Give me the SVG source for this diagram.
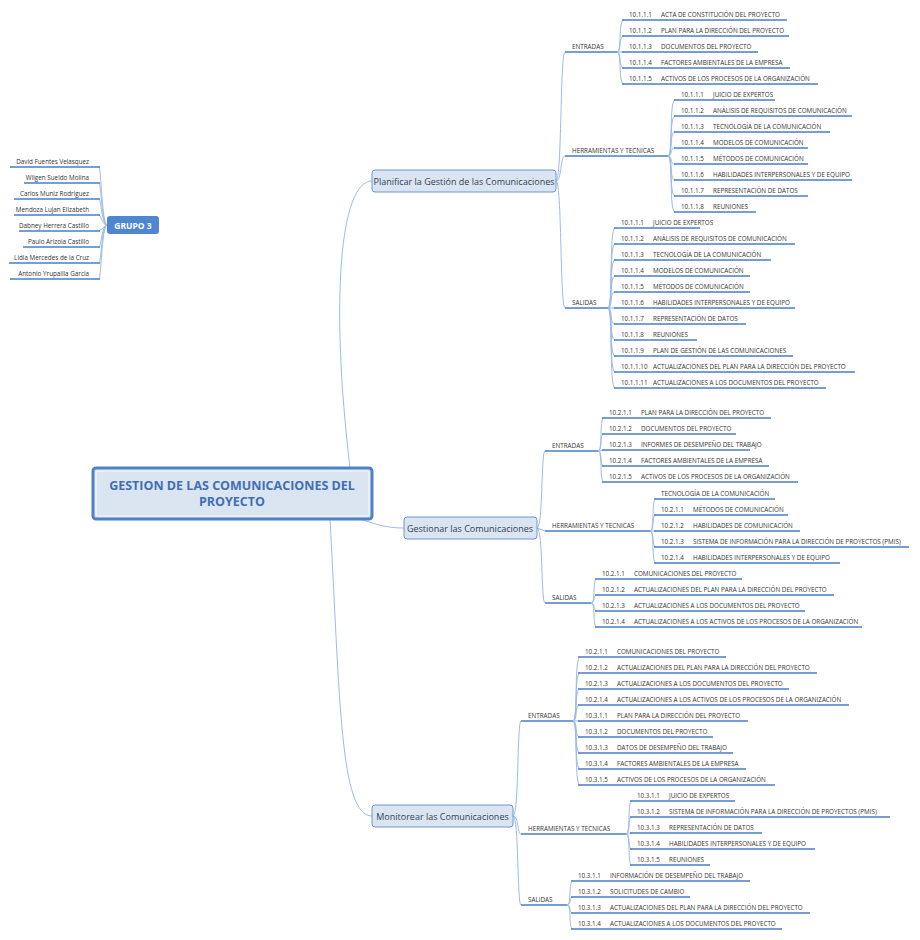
<svg xmlns="http://www.w3.org/2000/svg" width="920" height="940" viewBox="0 0 920 940">
<style>
text{font-family:"Open Sans","Liberation Sans",sans-serif;fill:#333}
.t{font-size:6.3px}
.n{font-size:6.3px}
.u{stroke:#4a7fc9;stroke-width:1.3;fill:none}
.c{stroke:#9dbbe6;stroke-width:1;fill:none}
.box{fill:#dbe5f1;stroke:#6f95cc;stroke-width:1}
.bt{font-size:9px;fill:#2f3f55}
</style>
<rect width="920" height="940" fill="#fff"/>
<g id="connectors">
<path class="c" d="M350 468 C330 300 340 181 372 181"/>
<path class="c" d="M360 519 C380 526 390 528 404 528"/>
<path class="c" d="M330 519 C340 700 340 816 372 816"/>
<path class="c" d="M556 181 C562 181 560 52 565 52 M556 181 C562 181 560 156 565 156 M556 181 C562 181 560 308 565 308"/>
<path class="c" d="M617 52 C622 52 618 20 624 20 M617 52 C622 52 618 36 624 36 M617 52 L624 52 M617 52 C622 52 618 68 624 68 M617 52 C622 52 618 84 624 84"/>
<path class="c" d="M668 156 C673 156 669 100 675 100 M668 156 C673 156 669 116 675 116 M668 156 C673 156 669 132 675 132 M668 156 C673 156 669 148 675 148 M668 156 C673 156 669 164 675 164 M668 156 C673 156 669 180 675 180 M668 156 C673 156 669 196 675 196 M668 156 C673 156 669 212 675 212"/>
<path class="c" d="M608 308 C613 308 609 228 615 228 M608 308 C613 308 609 244 615 244 M608 308 C613 308 609 260 615 260 M608 308 C613 308 609 276 615 276 M608 308 C613 308 609 292 615 292 M608 308 L615 308 M608 308 C613 308 609 324 615 324 M608 308 C613 308 609 340 615 340 M608 308 C613 308 609 356 615 356 M608 308 C613 308 609 372 615 372 M608 308 C613 308 609 388 615 388"/>
<path class="c" d="M537 528 C543 528 541 451 545 451 M537 528 L545 531 M537 528 C543 528 541 603 545 603"/>
<path class="c" d="M598 451 C603 451 599 418 604 418 M598 451 C603 451 599 434 604 434 M598 451 L604 450 M598 451 C603 451 599 466 604 466 M598 451 C603 451 599 482 604 482"/>
<path class="c" d="M650 531 C655 531 651 499 656 499 M650 531 C655 531 651 515 656 515 M650 531 L656 531 M650 531 C655 531 651 547 656 547 M650 531 C655 531 651 563 656 563"/>
<path class="c" d="M591 603 C596 603 592 579 597 579 M591 603 C596 603 592 595 597 595 M591 603 C596 603 592 611 597 611 M591 603 C596 603 592 627 597 627"/>
<path class="c" d="M513 816 C519 816 517 721 521 721 M513 816 C519 816 517 834 521 834 M513 816 C519 816 517 905 521 905"/>
<path class="c" d="M573 721 C578 721 574 657 580 657 M573 721 C578 721 574 673 580 673 M573 721 C578 721 574 689 580 689 M573 721 C578 721 574 705 580 705 M573 721 L580 721 M573 721 C578 721 574 737 580 737 M573 721 C578 721 574 753 580 753 M573 721 C578 721 574 769 580 769 M573 721 C578 721 574 785 580 785"/>
<path class="c" d="M626 834 C631 834 627 801 632 801 M626 834 C631 834 627 817 632 817 M626 834 C631 834 627 833 632 833 M626 834 C631 834 627 849 632 849 M626 834 C631 834 627 865 632 865"/>
<path class="c" d="M567 905 C572 905 568 881 573 881 M567 905 C572 905 568 897 573 897 M567 905 C572 905 568 913 573 913 M567 905 C572 905 568 929 573 929"/>
<path class="c" d="M107 225 C102 225 101 167 99 167 M107 225 C102 225 101 183 99 183 M107 225 C102 225 101 199 99 199 M107 225 C102 225 101 215 99 215 M107 225 L99 231 M107 225 C102 225 101 247 99 247 M107 225 C102 225 101 263 99 263 M107 225 C102 225 101 279 99 279"/>
</g>
<g id="central">
<rect x="93" y="468" width="279" height="51" rx="3" fill="#dbe5f1" stroke="#4f81c7" stroke-width="3"/>
<rect x="96" y="471" width="273" height="45" rx="2" fill="none" stroke="#fff" stroke-width="0.8"/>
<text x="232" y="490" text-anchor="middle" style="font-size:12.5px;font-weight:bold;fill:#3f6fb5">GESTION DE LAS COMUNICACIONES DEL</text>
<text x="232" y="506" text-anchor="middle" style="font-size:12.5px;font-weight:bold;fill:#3f6fb5">PROYECTO</text>
</g>
<g id="grupo">
<rect x="107" y="216" width="52" height="18" rx="3" fill="#4f86d2"/>
<text x="133" y="228.5" text-anchor="middle" style="font-size:8.5px;font-weight:bold;fill:#fff">GRUPO 3</text>
<g class="t" text-anchor="end">
<text x="89" y="164">David Fuentes Velasquez</text><text x="89" y="180">Wilgen Sueldo Molina</text><text x="89" y="196">Carlos Muniz Rodriguez</text><text x="89" y="212">Mendoza Lujan Elizabeth</text><text x="89" y="228">Dabney Herrera Castillo</text><text x="89" y="244">Paulo Arizola Castillo</text><text x="89" y="260">Lidia Mercedes de la Cruz</text><text x="89" y="276">Antonio Yrupailla Garcia</text>
</g>
<path class="u" d="M10 167H100M24 183H100M14 199H100M14 215H100M19 231H100M23 247H100M9 263H100M10 279H100"/>
</g>
<g id="planificar">
<rect class="box" x="372" y="170" width="184" height="22" rx="3"/>
<text class="bt" x="464" y="184.5" text-anchor="middle">Planificar la Gestión de las Comunicaciones</text>
<text class="t" x="572" y="49">ENTRADAS</text><text class="t" x="572" y="153">HERRAMIENTAS Y TECNICAS</text><text class="t" x="572" y="305">SALIDAS</text>
<path class="u" d="M565 52H617M565 156H668M565 308H608"/>
<g class="t">
<text x="629" y="17">10.1.1.1</text><text x="661" y="17">ACTA DE CONSTITUCIÓN DEL PROYECTO</text>
<text x="629" y="33">10.1.1.2</text><text x="661" y="33">PLAN PARA LA DIRECCIÓN DEL PROYECTO</text>
<text x="629" y="49">10.1.1.3</text><text x="661" y="49">DOCUMENTOS DEL PROYECTO</text>
<text x="629" y="65">10.1.1.4</text><text x="661" y="65">FACTORES AMBIENTALES DE LA EMPRESA</text>
<text x="629" y="81">10.1.1.5</text><text x="661" y="81">ACTIVOS DE LOS PROCESOS DE LA ORGANIZACIÓN</text>
</g>
<path class="u" d="M622 20H787M622 36H789M622 52H758M622 68H790M622 84H818"/>
<g class="t">
<text x="681" y="97">10.1.1.1</text><text x="713" y="97">JUICIO DE EXPERTOS</text>
<text x="681" y="113">10.1.1.2</text><text x="713" y="113">ANÁLISIS DE REQUISITOS DE COMUNICACIÓN</text>
<text x="681" y="129">10.1.1.3</text><text x="713" y="129">TECNOLOGÍA DE LA COMUNICACIÓN</text>
<text x="681" y="145">10.1.1.4</text><text x="713" y="145">MODELOS DE COMUNICACIÓN</text>
<text x="681" y="161">10.1.1.5</text><text x="713" y="161">MÉTODOS DE COMUNICACIÓN</text>
<text x="681" y="177">10.1.1.6</text><text x="713" y="177">HABILIDADES INTERPERSONALES Y DE EQUIPO</text>
<text x="681" y="193">10.1.1.7</text><text x="713" y="193">REPRESENTACIÓN DE DATOS</text>
<text x="681" y="209">10.1.1.8</text><text x="713" y="209">REUNIONES</text>
</g>
<path class="u" d="M674 100H775M674 116H852M674 132H830M674 148H808M674 164H808M674 180H852M674 196H808M674 212H756"/>
<g class="t">
<text x="621" y="225">10.1.1.1</text><text x="653" y="225">JUICIO DE EXPERTOS</text>
<text x="621" y="241">10.1.1.2</text><text x="653" y="241">ANÁLISIS DE REQUISITOS DE COMUNICACIÓN</text>
<text x="621" y="257">10.1.1.3</text><text x="653" y="257">TECNOLOGÍA DE LA COMUNICACIÓN</text>
<text x="621" y="273">10.1.1.4</text><text x="653" y="273">MODELOS DE COMUNICACIÓN</text>
<text x="621" y="289">10.1.1.5</text><text x="653" y="289">MÉTODOS DE COMUNICACIÓN</text>
<text x="621" y="305">10.1.1.6</text><text x="653" y="305">HABILIDADES INTERPERSONALES Y DE EQUIPO</text>
<text x="621" y="321">10.1.1.7</text><text x="653" y="321">REPRESENTACIÓN DE DATOS</text>
<text x="621" y="337">10.1.1.8</text><text x="653" y="337">REUNIONES</text>
<text x="621" y="353">10.1.1.9</text><text x="653" y="353">PLAN DE GESTIÓN DE LAS COMUNICACIONES</text>
<text x="621" y="369">10.1.1.10</text><text x="653" y="369">ACTUALIZACIONES DEL PLAN PARA LA DIRECCIÓN DEL PROYECTO</text>
<text x="621" y="385">10.1.1.11</text><text x="653" y="385">ACTUALIZACIONES A LOS DOCUMENTOS DEL PROYECTO</text>
</g>
<path class="u" d="M614 228H700M614 244H795M614 260H771M614 276H750M614 292H750M614 308H795M614 324H746M614 340H697M614 356H793M614 372H855M614 388H826"/>
</g>
<g id="gestionar">
<rect class="box" x="404" y="517" width="133" height="22" rx="3"/>
<text class="bt" x="470" y="531.5" text-anchor="middle">Gestionar las Comunicaciones</text>
<text class="t" x="552" y="448">ENTRADAS</text><text class="t" x="552" y="528">HERRAMIENTAS Y TECNICAS</text><text class="t" x="552" y="600">SALIDAS</text>
<path class="u" d="M545 451H598M545 531H650M545 603H591"/>
<g class="t">
<text x="609" y="415">10.2.1.1</text><text x="641" y="415">PLAN PARA LA DIRECCIÓN DEL PROYECTO</text>
<text x="609" y="431">10.2.1.2</text><text x="641" y="431">DOCUMENTOS DEL PROYECTO</text>
<text x="609" y="447">10.2.1.3</text><text x="641" y="447">INFORMES DE DESEMPEÑO DEL TRABAJO</text>
<text x="609" y="463">10.2.1.4</text><text x="641" y="463">FACTORES AMBIENTALES DE LA EMPRESA</text>
<text x="609" y="479">10.2.1.5</text><text x="641" y="479">ACTIVOS DE LOS PROCESOS DE LA ORGANIZACIÓN</text>
</g>
<path class="u" d="M602 418H771M602 434H736M602 450H750M602 466H769M602 482H798"/>
<g class="t">
<text x="661" y="496">TECNOLOGÍA DE LA COMUNICACIÓN</text>
<text x="661" y="512">10.2.1.1</text><text x="693" y="512">MÉTODOS DE COMUNICACIÓN</text>
<text x="661" y="528">10.2.1.2</text><text x="693" y="528">HABILIDADES DE COMUNICACIÓN</text>
<text x="661" y="544">10.2.1.3</text><text x="693" y="544">SISTEMA DE INFORMACIÓN PARA LA DIRECCIÓN DE PROYECTOS (PMIS)</text>
<text x="661" y="560">10.2.1.4</text><text x="693" y="560">HABILIDADES INTERPERSONALES Y DE EQUIPO</text>
</g>
<path class="u" d="M654 499H775M654 515H788M654 531H800M654 547H909M654 563H840"/>
<g class="t">
<text x="602" y="576">10.2.1.1</text><text x="634" y="576">COMUNICACIONES DEL PROYECTO</text>
<text x="602" y="592">10.2.1.2</text><text x="634" y="592">ACTUALIZACIONES DEL PLAN PARA LA DIRECCIÓN DEL PROYECTO</text>
<text x="602" y="608">10.2.1.3</text><text x="634" y="608">ACTUALIZACIONES A LOS DOCUMENTOS DEL PROYECTO</text>
<text x="602" y="624">10.2.1.4</text><text x="634" y="624">ACTUALIZACIONES A LOS ACTIVOS DE LOS PROCESOS DE LA ORGANIZACIÓN</text>
</g>
<path class="u" d="M595 579H742M595 595H834M595 611H805M595 627H862"/>
</g>
<g id="monitorear">
<rect class="box" x="372" y="805" width="141" height="22" rx="3"/>
<text class="bt" x="442.5" y="819.5" text-anchor="middle">Monitorear las Comunicaciones</text>
<text class="t" x="528" y="718">ENTRADAS</text><text class="t" x="528" y="831">HERRAMIENTAS Y TECNICAS</text><text class="t" x="528" y="902">SALIDAS</text>
<path class="u" d="M521 721H573M521 834H626M521 905H567"/>
<g class="t">
<text x="585" y="654">10.2.1.1</text><text x="617" y="654">COMUNICACIONES DEL PROYECTO</text>
<text x="585" y="670">10.2.1.2</text><text x="617" y="670">ACTUALIZACIONES DEL PLAN PARA LA DIRECCIÓN DEL PROYECTO</text>
<text x="585" y="686">10.2.1.3</text><text x="617" y="686">ACTUALIZACIONES A LOS DOCUMENTOS DEL PROYECTO</text>
<text x="585" y="702">10.2.1.4</text><text x="617" y="702">ACTUALIZACIONES A LOS ACTIVOS DE LOS PROCESOS DE LA ORGANIZACIÓN</text>
<text x="585" y="718">10.3.1.1</text><text x="617" y="718">PLAN PARA LA DIRECCIÓN DEL PROYECTO</text>
<text x="585" y="734">10.3.1.2</text><text x="617" y="734">DOCUMENTOS DEL PROYECTO</text>
<text x="585" y="750">10.3.1.3</text><text x="617" y="750">DATOS DE DESEMPEÑO DEL TRABAJO</text>
<text x="585" y="766">10.3.1.4</text><text x="617" y="766">FACTORES AMBIENTALES DE LA EMPRESA</text>
<text x="585" y="782">10.3.1.5</text><text x="617" y="782">ACTIVOS DE LOS PROCESOS DE LA ORGANIZACIÓN</text>
</g>
<path class="u" d="M578 657H726M578 673H817M578 689H789M578 705H849M578 721H748M578 737H713M578 753H733M578 769H746M578 785H775"/>
<g class="t">
<text x="637" y="798">10.3.1.1</text><text x="669" y="798">JUICIO DE EXPERTOS</text>
<text x="637" y="814">10.3.1.2</text><text x="669" y="814">SISTEMA DE INFORMACIÓN PARA LA DIRECCIÓN DE PROYECTOS (PMIS)</text>
<text x="637" y="830">10.3.1.3</text><text x="669" y="830">REPRESENTACIÓN DE DATOS</text>
<text x="637" y="846">10.3.1.4</text><text x="669" y="846">HABILIDADES INTERPERSONALES Y DE EQUIPO</text>
<text x="637" y="862">10.3.1.5</text><text x="669" y="862">REUNIONES</text>
</g>
<path class="u" d="M630 801H735M630 817H890M630 833H762M630 849H815M630 865H710"/>
<g class="t">
<text x="578" y="878">10.3.1.1</text><text x="610" y="878">INFORMACIÓN DE DESEMPEÑO DEL TRABAJO</text>
<text x="578" y="894">10.3.1.2</text><text x="610" y="894">SOLICITUDES DE CAMBIO</text>
<text x="578" y="910">10.3.1.3</text><text x="610" y="910">ACTUALIZACIONES DEL PLAN PARA LA DIRECCIÓN DEL PROYECTO</text>
<text x="578" y="926">10.3.1.4</text><text x="610" y="926">ACTUALIZACIONES A LOS DOCUMENTOS DEL PROYECTO</text>
</g>
<path class="u" d="M571 881H750M571 897H690M571 913H810M571 929H782"/>
</g>
</svg>
